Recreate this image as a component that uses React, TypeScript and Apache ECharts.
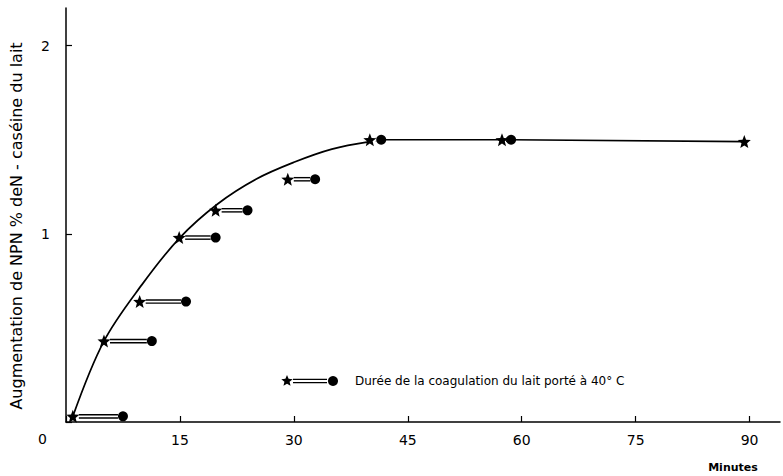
import React, { useEffect, useRef } from "react";
import * as echarts from "echarts";

const xTickValues = [0, 15, 30, 45, 60, 75, 90];
const yTickValues = [1, 2];
const starMinutes = [0.9, 5.0, 9.7, 14.9, 19.7, 29.2, 40.0, 57.4, 89.3];
const dotMinutes = [7.5, 11.3, 15.8, 19.7, 23.9, 32.8, 41.5, 58.6, null];
const npnValues = [0.03, 0.43, 0.64, 0.98, 1.125, 1.29, 1.5, 1.5, 1.49];
const curveMinutes = [0.9, 5, 10, 15, 20, 25, 30, 35, 40];
const curveValues = [0.03, 0.43, 0.73, 0.98, 1.16, 1.29, 1.38, 1.45, 1.49];
const plateauMinutes = [41.5, 57.4, 58.6, 89.3];
const plateauValues = [1.5, 1.5, 1.5, 1.49];

const yTitle = "Augmentation de NPN % deN - caséine du lait";
const legendText = "Durée de la coagulation du lait porté à 40° C";
const xTitle = "Minutes";

const STAR =
  "path://M0,-10 L2.6,-3.4 L9.51,-3.09 L4.1,1.3 L5.88,8.09 L0,4.3 L-5.88,8.09 L-4.1,1.3 L-9.51,-3.09 L-2.6,-3.4 Z";

function starPoints(cx: number, cy: number, r: number) {
  const pts: number[][] = [];
  for (let i = 0; i < 10; i++) {
    const a = -Math.PI / 2 + (i * Math.PI) / 5;
    const rr = i % 2 === 0 ? r : r * 0.45;
    pts.push([cx + rr * Math.cos(a), cy + rr * Math.sin(a)]);
  }
  return pts;
}

const FONT = "DejaVu Sans";

export default function App() {
  const ref = useRef<HTMLDivElement>(null);
  useEffect(() => {
    if (!ref.current) return;
    const chart = echarts.init(ref.current, null, { renderer: "svg" });
    const pairs: number[][] = [];
    starMinutes.forEach((t, i) => {
      const d = dotMinutes[i];
      if (d !== null && d !== undefined) pairs.push([t, d, npnValues[i]]);
    });
    const legendY = 381;
    chart.setOption({
      animation: false,
      backgroundColor: "#fff",
      grid: { left: 66, right: 3, top: 8, bottom: 54, containLabel: false },
      xAxis: {
        type: "value",
        min: 0,
        max: 94,
        interval: 15,
        axisLine: { show: true, lineStyle: { color: "#000", width: 1.5 } },
        axisTick: { show: true, inside: true, length: 6, lineStyle: { color: "#000", width: 1.2 } },
        splitLine: { show: false },
        axisLabel: {
          color: "#000",
          fontFamily: FONT,
          fontSize: 14,
          margin: 11,
          showMaxLabel: false,
          formatter: (v: number) => (xTickValues.includes(v) && v !== 0 ? String(v) : ""),
        },
      },
      yAxis: {
        type: "value",
        min: 0,
        max: 2.2,
        interval: 1,
        axisLine: { show: true, lineStyle: { color: "#000", width: 1.5 } },
        axisTick: { show: true, inside: true, length: 6, lineStyle: { color: "#000", width: 1.2 } },
        splitLine: { show: false },
        axisLabel: {
          color: "#000",
          fontFamily: FONT,
          fontSize: 14,
          margin: 16,
          showMaxLabel: false,
          formatter: (v: number) => (yTickValues.includes(v) ? String(v) : ""),
        },
      },
      series: [
        {
          type: "line",
          data: curveMinutes.map((t, i) => [t, curveValues[i]]),
          smooth: 0.35,
          showSymbol: false,
          lineStyle: { color: "#000", width: 1.7 },
          z: 2,
        },
        {
          type: "line",
          data: plateauMinutes.map((t, i) => [t, plateauValues[i]]),
          showSymbol: false,
          lineStyle: { color: "#000", width: 1.7 },
          z: 2,
        },
        {
          type: "custom",
          data: pairs,
          z: 3,
          renderItem: (params: any, api: any) => {
            const p1 = api.coord([api.value(0), api.value(2)]);
            const p2 = api.coord([api.value(1), api.value(2)]);
            const x1 = p1[0] + 6;
            const x2 = p2[0] - 5;
            return {
              type: "group",
              children: [
                { type: "line", shape: { x1, y1: p1[1] - 1.6, x2, y2: p2[1] - 1.6 }, style: { stroke: "#000", lineWidth: 1.4 } },
                { type: "line", shape: { x1, y1: p1[1] + 1.6, x2, y2: p2[1] + 1.6 }, style: { stroke: "#000", lineWidth: 1.4 } },
              ],
            };
          },
        },
        {
          type: "scatter",
          data: starMinutes.map((t, i) => [t, npnValues[i]]),
          symbol: STAR,
          symbolSize: 13,
          itemStyle: { color: "#000", opacity: 1 },
          z: 5,
        },
        {
          type: "scatter",
          data: dotMinutes
            .map((t, i) => (t === null ? null : [t, npnValues[i]]))
            .filter((d) => d !== null),
          symbol: "circle",
          symbolSize: 10,
          itemStyle: { color: "#000", opacity: 1 },
          z: 5,
        },
      ],
      graphic: [
        {
          type: "text",
          left: 38,
          top: 432,
          style: { text: "0", fontFamily: FONT, fontSize: 14, fill: "#000" },
        },
        {
          type: "text",
          x: 16,
          y: 226,
          rotation: Math.PI / 2,
          style: {
            text: yTitle,
            fontFamily: FONT,
            fontSize: 16,
            fill: "#000",
            textAlign: "center",
            textVerticalAlign: "middle",
          },
        },
        {
          type: "text",
          x: 733,
          y: 467,
          style: {
            text: xTitle,
            fontFamily: FONT,
            fontSize: 11,
            fontWeight: "bold",
            fill: "#000",
            textAlign: "center",
            textVerticalAlign: "middle",
          },
        },
        {
          type: "polygon",
          shape: { points: starPoints(287, legendY, 6) },
          style: { fill: "#000" },
        },
        { type: "line", shape: { x1: 293, y1: legendY - 1.6, x2: 327, y2: legendY - 1.6 }, style: { stroke: "#000", lineWidth: 1.4 } },
        { type: "line", shape: { x1: 293, y1: legendY + 1.6, x2: 327, y2: legendY + 1.6 }, style: { stroke: "#000", lineWidth: 1.4 } },
        { type: "circle", shape: { cx: 333, cy: legendY, r: 5 }, style: { fill: "#000" } },
        {
          type: "text",
          x: 355,
          y: legendY,
          style: {
            text: legendText,
            fontFamily: FONT,
            fontSize: 12,
            fill: "#000",
            textVerticalAlign: "middle",
          },
        },
      ],
    });
    return () => chart.dispose();
  }, []);
  return (
    <div
      ref={ref}
      style={{ position: "absolute", left: 0, top: 0, width: 783, height: 476 }}
    />
  );
}
